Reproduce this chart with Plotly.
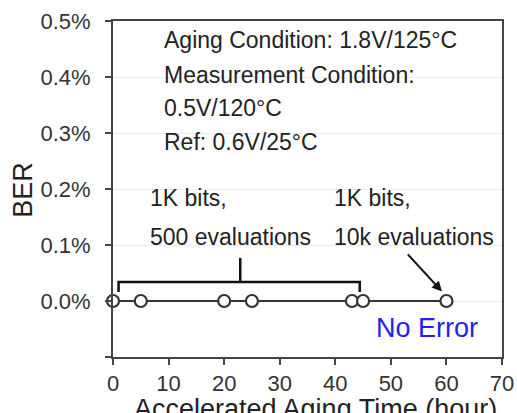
import plotly.graph_objects as go

# Aging time points (hours) and measured bit error rate (fraction)
aging_hours = [0, 5, 20, 25, 43, 45, 60]
ber_values = [0, 0, 0, 0, 0, 0, 0]

x_tick_vals = [0, 10, 20, 30, 40, 50, 60, 70]
y_tick_vals = [-0.001, 0, 0.001, 0.002, 0.003, 0.004, 0.005]
y_tick_text = ["", "0.0%", "0.1%", "0.2%", "0.3%", "0.4%", "0.5%"]

condition_lines = [
    "Aging Condition: 1.8V/125°C",
    "Measurement Condition:",
    "0.5V/120°C",
    "Ref: 0.6V/25°C",
]
condition_y = [0.00466, 0.00404, 0.00345, 0.00284]

FONT = "Arial, Liberation Sans, sans-serif"
TEXT = "#222222"
AXIS = "#444444"

fig = go.Figure()
fig.add_trace(go.Scatter(
    x=aging_hours, y=ber_values, mode="lines+markers",
    line=dict(color="#333333", width=2),
    marker=dict(symbol="circle", size=12, color="white",
                line=dict(color="#333333", width=2.2)),
    cliponaxis=False, showlegend=False,
))

annotations = []
for txt, yy in zip(condition_lines, condition_y):
    annotations.append(dict(x=8.8, y=yy, text=txt, showarrow=False,
                            xanchor="left", yanchor="middle",
                            font=dict(size=23, color=TEXT, family=FONT)))

for txt, xx, yy in [("1K bits,", 6.3, 0.00184), ("500 evaluations", 6.3, 0.00114),
                    ("1K bits,", 39.4, 0.00184), ("10k evaluations", 39.4, 0.00114)]:
    annotations.append(dict(x=xx, y=yy, text=txt, showarrow=False,
                            xanchor="left", yanchor="middle",
                            font=dict(size=23, color=TEXT, family=FONT)))

annotations.append(dict(x=56.5, y=-0.00048, text="No Error", showarrow=False,
                        xanchor="center", yanchor="middle",
                        font=dict(size=27, color="#2222ee", family=FONT)))

# arrow pointing to the 10k-evaluation measurement
annotations.append(dict(x=59.2, y=0.00017, ax=52.8, ay=0.00086,
                        xref="x", yref="y", axref="x", ayref="y",
                        text="", showarrow=True, arrowhead=2, arrowsize=1,
                        arrowwidth=2, arrowcolor="#111111"))

# axis titles
annotations.append(dict(x=-0.232, y=0.497, xref="paper", yref="paper",
                        text="BER", textangle=-90, showarrow=False,
                        xanchor="center", yanchor="middle",
                        font=dict(size=27, color=TEXT, family=FONT)))
annotations.append(dict(x=0.52, y=-0.105, xref="paper", yref="paper",
                        text="Accelerated Aging Time (hour)", showarrow=False,
                        xanchor="center", yanchor="top",
                        font=dict(size=27, color=TEXT, family=FONT)))

# bracket grouping the 500-evaluation measurements
bracket_x = [1.0, 44.4]
bracket_mid = 22.9
bracket_low, bracket_y, bracket_top = 0.00016, 0.00034, 0.00077
shapes = [
    dict(type="path", xref="x", yref="y",
         path=f"M {bracket_x[0]},{bracket_low} L {bracket_x[0]},{bracket_y} "
              f"L {bracket_x[1]},{bracket_y} L {bracket_x[1]},{bracket_low}",
         line=dict(color="#111111", width=2.5)),
    dict(type="line", xref="x", yref="y", x0=bracket_mid, x1=bracket_mid,
         y0=bracket_y, y1=bracket_top, line=dict(color="#111111", width=2.5)),
]

fig.update_layout(
    width=517, height=413,
    margin=dict(l=113, r=15, t=21, b=56, autoexpand=False),
    paper_bgcolor="white", plot_bgcolor="white",
    font=dict(family=FONT, color="#333333"),
    annotations=annotations, shapes=shapes,
    xaxis=dict(range=[0, 70], tickvals=x_tick_vals, ticks="outside", ticklen=6,
               tickwidth=1.5, tickcolor=AXIS, showline=True, linecolor=AXIS,
               linewidth=2, mirror=True, showgrid=False, zeroline=False,
               tickfont=dict(size=22, color="#333333", family=FONT)),
    yaxis=dict(range=[-0.001, 0.005], tickvals=y_tick_vals, ticktext=y_tick_text,
               ticks="outside", ticklen=6, tickwidth=1.5, tickcolor=AXIS,
               showline=True, linecolor=AXIS, linewidth=2, mirror=True,
               showgrid=True, gridcolor="#ececec", gridwidth=1, zeroline=False,
               ticklabelstandoff=10,
               tickfont=dict(size=22, color="#333333", family=FONT)),
)

fig.write_html("out.html")
